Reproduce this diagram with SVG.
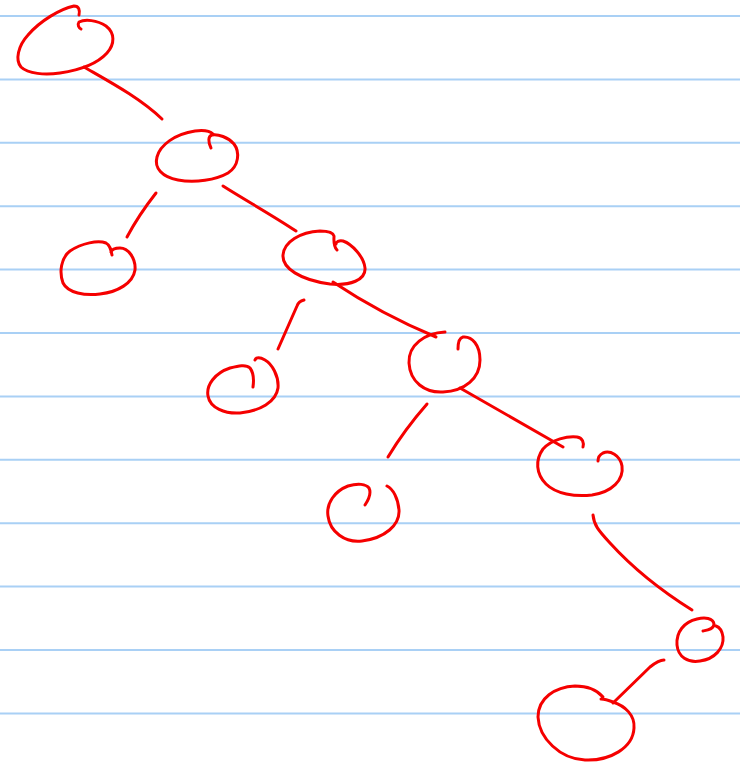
<svg xmlns="http://www.w3.org/2000/svg" width="740" height="765" viewBox="0 0 740 765">
<style>
.rule{stroke:#a9d0f5;stroke-width:2;fill:none}
.ink{stroke:#f50000;stroke-width:3;fill:none;stroke-linecap:round;stroke-linejoin:round}
</style>
<rect width="740" height="765" fill="#ffffff"/>
<g id="paper">
<line class="rule" x1="0" y1="16" x2="740" y2="16"/>
<line class="rule" x1="0" y1="79.4" x2="740" y2="79.4"/>
<line class="rule" x1="0" y1="142.8" x2="740" y2="142.8"/>
<line class="rule" x1="0" y1="206.2" x2="740" y2="206.2"/>
<line class="rule" x1="0" y1="269.6" x2="740" y2="269.6"/>
<line class="rule" x1="0" y1="333" x2="740" y2="333"/>
<line class="rule" x1="0" y1="396.4" x2="740" y2="396.4"/>
<line class="rule" x1="0" y1="459.8" x2="740" y2="459.8"/>
<line class="rule" x1="0" y1="523.2" x2="740" y2="523.2"/>
<line class="rule" x1="0" y1="586.6" x2="740" y2="586.6"/>
<line class="rule" x1="0" y1="650" x2="740" y2="650"/>
<line class="rule" x1="0" y1="713.4" x2="740" y2="713.4"/>
</g>
<g id="connectors">
<path class="ink" d="M84,67 C110,82 140,98 162,119"/>
<path class="ink" d="M156,193 C145,207 135,222 127,237"/>
<path class="ink" d="M223,186 C245,200 272,215 296,231"/>
<path class="ink" d="M304,300 C300,301 298,303 297,306 L278,349"/>
<path class="ink" d="M333,282 C360,300 395,320 436,337"/>
<path class="ink" d="M427,404 C413,420 400,437 388,457"/>
<path class="ink" d="M460,388 L563,447"/>
<path class="ink" d="M593,515 C594,525 598,530 610,543 C630,565 660,590 692,610"/>
<path class="ink" d="M664,660 C659,660 655,663 650,667 L613,703"/>
</g>
<g id="n1"><path class="ink" d="M79,15 C80,10 79,6 74,6 C60,9 40,21 28,35 C18,46 15,60 21,67 C28,74 45,75 60,73 C80,70 98,63 107,53 C115,44 115,33 106,26 C97,20 85,19 79,22 C77,25 79,28 81,29"/></g>
<g id="n2"><path class="ink" d="M211,148 C208,142 208,136 212,135 C218,134 228,137 234,144 C240,152 239,166 228,173 C216,180 195,183 178,180 C162,177 154,168 157,157 C160,145 175,134 195,131 C203,130 210,131 213,134"/></g>
<g id="n3"><path class="ink" d="M112,255 C111,250 110,245 106,243 C98,240 82,243 70,251 C61,258 59,272 63,283 C68,293 85,296 100,294 C118,292 133,283 135,270 C136,258 128,248 120,248 C116,248 112,249 111,252"/></g>
<g id="n4"><path class="ink" d="M337,250 C333,246 334,240 334,236 C333,232 328,231 320,231 C300,232 284,242 283,255 C282,268 300,280 330,284 C350,286 366,280 365,268 C364,257 352,244 343,241 C339,240 336,242 336,244"/></g>
<g id="n5"><path class="ink" d="M253,387 C254,380 253,372 250,368 C246,364 238,366 230,368 C215,373 206,385 208,396 C210,408 225,414 240,413 C260,411 276,402 278,388 C279,376 272,364 265,360 C260,357 256,357 255,360"/></g>
<g id="n6"><path class="ink" d="M445,332 C425,333 408,345 409,363 C410,382 425,393 443,392 C465,391 480,378 480,360 C480,345 472,336 463,337 C459,338 458,343 458,349"/></g>
<g id="n7"><path class="ink" d="M365,505 C369,499 371,492 369,488 C366,484 358,483 348,486 C335,491 326,503 328,516 C330,532 345,543 362,541 C385,538 400,525 399,510 C398,498 393,489 387,486"/></g>
<g id="n8"><path class="ink" d="M583,447 C584,443 583,438 577,437 C568,436 552,439 543,449 C535,460 536,474 546,484 C556,494 575,497 592,495 C612,492 624,480 622,466 C620,455 610,450 603,453 C599,455 598,458 598,461"/></g>
<g id="n9"><path class="ink" d="M703,631 C708,630 714,629 714,624 C713,618 705,617 697,619 C684,622 676,632 677,645 C678,657 688,663 700,661 C715,659 724,648 723,637 C722,630 719,627 716,626"/></g>
<g id="n10"><path class="ink" d="M603,697 C597,690 588,686 575,686 C555,687 538,698 538,717 C539,738 560,759 585,760 C610,761 633,748 634,728 C635,715 625,706 613,702 C608,700 604,699 601,699"/></g>
</svg>
